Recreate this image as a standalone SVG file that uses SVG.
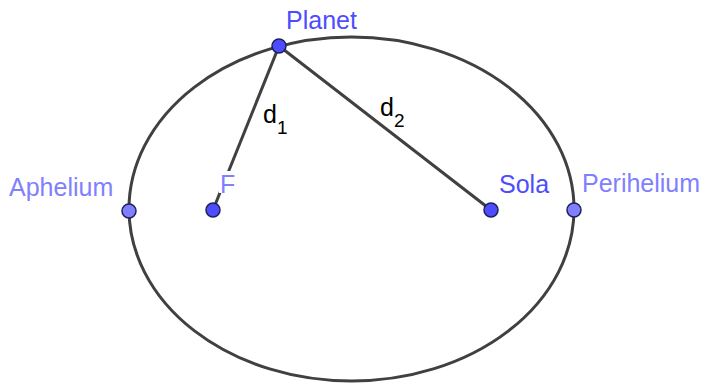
<svg xmlns="http://www.w3.org/2000/svg" width="703" height="383" viewBox="0 0 703 383">
<style>
.curve{fill:none;stroke:#404040;stroke-width:3}
.pt{stroke:#1f1f5a;stroke-width:1.5}
.dark{fill:#4d4dff}
.light{fill:#8080ff}
text{font-family:"Liberation Sans",Arial,sans-serif;font-size:25px}
.ldark{fill:#4d4dff}
.llight{fill:#8080ff}
.blk{fill:#000}
</style>
<rect width="703" height="383" fill="#fff"/>
<g id="orbit"><ellipse class="curve" cx="351.5" cy="209" rx="222.5" ry="172"/></g>
<g id="connectors">
<line class="curve" x1="279" y1="46" x2="213" y2="210"/>
<line class="curve" x1="279" y1="46" x2="491" y2="210"/>
<text class="blk" x="263" y="123">d<tspan font-size="19" dy="11">1</tspan></text>
<text class="blk" x="380" y="116">d<tspan font-size="19" dy="11">2</tspan></text>
</g>
<g id="F">
<rect x="219" y="171" width="14" height="22" fill="#fff"/>
<circle class="pt dark" cx="213" cy="210" r="7"/>
<text class="llight" x="220" y="193">F</text>
</g>
<g id="Sola">
<circle class="pt dark" cx="491" cy="210" r="7"/>
<text class="ldark" x="499" y="193">Sola</text>
</g>
<g id="Planet">
<circle class="pt dark" cx="279" cy="46" r="7"/>
<text class="ldark" x="286" y="29">Planet</text>
</g>
<g id="Aphelium">
<circle class="pt light" cx="129" cy="211" r="7"/>
<text class="llight" x="9" y="196">Aphelium</text>
</g>
<g id="Perihelium">
<circle class="pt light" cx="574" cy="210" r="7"/>
<text class="llight" x="582" y="192">Perihelium</text>
</g>
</svg>
